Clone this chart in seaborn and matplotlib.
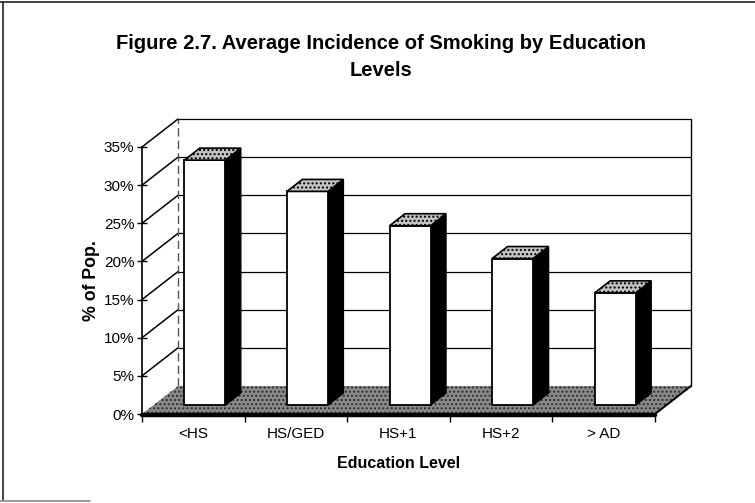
import numpy as np
import pandas as pd
import matplotlib
matplotlib.use("Agg")
import matplotlib.pyplot as plt
import seaborn as sns
from matplotlib.patches import Polygon
from matplotlib.lines import Line2D
from matplotlib import transforms

# data
levels = ["<HS", "HS/GED", "HS+1", "HS+2", "> AD"]
smoking_pct = [32.1, 28.0, 23.5, 19.2, 14.7]
y_ticks = [0, 5, 10, 15, 20, 25, 30, 35]
y_tick_labels = ["0%", "5%", "10%", "15%", "20%", "25%", "30%", "35%"]

sns.set_theme(style="white")
plt.rcParams['font.family'] = ['Liberation Sans', 'DejaVu Sans']

W, H = 755, 503
fig = plt.figure(figsize=(W / 100, H / 100), dpi=100)
fig.patch.set_facecolor("white")

# front plane of the fake 3d box, in pixels from top-left
x0, x1 = 142, 655
yb, yt = 414, 147
ax = fig.add_axes([x0 / W, 1 - yb / H, (x1 - x0) / W, (yb - yt) / H])
ax.patch.set_visible(False)

df = pd.DataFrame({"level": levels, "pct": smoking_pct})
sns.barplot(data=df, x="level", y="pct", color="white", edgecolor="black",
            linewidth=1.3, width=0.40, saturation=1, ax=ax, zorder=6)
bars = list(ax.patches)
ax.set_xlim(-0.5, len(levels) - 0.5)
ax.set_ylim(0, 35)

depth = np.array([36.0, 28.0])   # full depth of the floor in pixels
bar_front = 0.32                 # where the bar front sits in the depth
bar_depth = 0.43
ident = transforms.IdentityTransform()


def px(x, y, d=0.0):
    return ax.transData.transform((x, y)) + d * depth


# back wall
lo, hi = -0.5, len(levels) - 0.5
wall = [px(lo, 0, 1), px(hi, 0, 1), px(hi, 35, 1), px(lo, 35, 1)]
ax.add_patch(Polygon(wall, closed=True, facecolor="white", edgecolor="none",
                     transform=ident, clip_on=False, zorder=1))
for t in y_ticks[1:]:
    a, b = px(lo, t, 1), px(hi, t, 1)
    ax.add_line(Line2D([a[0], b[0]], [a[1], b[1]], color="black", lw=0.9,
                       transform=ident, clip_on=False, zorder=2))
    # slanted lines on the left wall
    c = px(lo, t, 0)
    ax.add_line(Line2D([c[0], a[0]], [c[1], a[1]], color="black", lw=1.1,
                       transform=ident, clip_on=False, zorder=2))
a, b = px(hi, 0, 1), px(hi, 35, 1)
ax.add_line(Line2D([a[0], b[0]], [a[1], b[1]], color="black", lw=1.0,
                   transform=ident, clip_on=False, zorder=2))
a, b = px(lo, 0, 1), px(lo, 35, 1)
ax.add_line(Line2D([a[0], b[0]], [a[1], b[1]], color="#555555", lw=1.0,
                   ls=(0, (6, 3)), transform=ident, clip_on=False, zorder=2))

# floor
floor = [px(lo, 0, 0), px(hi, 0, 0), px(hi, 0, 1), px(lo, 0, 1)]
ax.add_patch(Polygon(floor, closed=True, facecolor="#8a8a8a", edgecolor="#2e2e2e",
                     hatch="....", lw=0, transform=ident, clip_on=False, zorder=3))
a, b = px(lo, 0, 0), px(hi, 0, 0)
ax.add_line(Line2D([a[0], b[0]], [a[1] - 1, b[1] - 1], color="black", lw=3.2,
                   transform=ident, clip_on=False, zorder=4))
c = px(hi, 0, 1)
ax.add_line(Line2D([b[0], c[0]], [b[1], c[1]], color="black", lw=1.4,
                   transform=ident, clip_on=False, zorder=4))

# bars: move the front faces back a little, then add side and top faces
shift = bar_front * depth
front_tr = transforms.offset_copy(ax.transData, fig=fig, x=shift[0], y=shift[1], units="dots")
for p in bars:
    bx, bw, bh = p.get_x(), p.get_width(), p.get_height()
    p.set_transform(front_tr)
    p.set_clip_on(False)
    d0, d1 = bar_front, bar_front + bar_depth
    side = [px(bx + bw, 0, d0), px(bx + bw, bh, d0), px(bx + bw, bh, d1), px(bx + bw, 0, d1)]
    ax.add_patch(Polygon(side, closed=True, facecolor="black", edgecolor="black", lw=1.0,
                         transform=ident, clip_on=False, zorder=5))
    top = [px(bx, bh, d0), px(bx + bw, bh, d0), px(bx + bw, bh, d1), px(bx, bh, d1)]
    ax.add_patch(Polygon(top, closed=True, facecolor="#c4c4c4", edgecolor="black", lw=1.2,
                         hatch="....", transform=ident, clip_on=False, zorder=7))

# axes, ticks and labels
for s in ["top", "right", "bottom"]:
    ax.spines[s].set_visible(False)
ax.spines["left"].set_visible(True)
ax.spines["left"].set_color("black")
ax.spines["left"].set_linewidth(1.2)
ax.set_yticks(y_ticks)
ax.set_yticklabels(y_tick_labels)
ax.tick_params(axis="y", left=True, direction="inout", length=7, width=1,
               color="black", pad=2, labelsize=11, labelcolor="black")
ax.set_xticks(range(len(levels)))
ax.set_xticklabels(levels)
ax.set_xticks(np.arange(len(levels) + 1) - 0.5, minor=True)
ax.tick_params(axis="x", which="major", bottom=False, length=0, pad=9,
               labelsize=11, labelcolor="black")
ax.tick_params(axis="x", which="minor", bottom=True, direction="out", length=6,
               width=1, color="black")
ax.set_xlabel("Education Level", fontsize=11.5, fontweight="bold", labelpad=11, color="black")
ax.set_ylabel("% of Pop.", fontsize=12.8, fontweight="bold", labelpad=3, color="black")
ax.grid(False)

fig.text(381 / W, 1 - 57 / H, "Figure 2.7. Average Incidence of Smoking by Education\nLevels",
         ha="center", va="center", fontsize=14.5, fontweight="bold", linespacing=1.5, color="black")

# outer frame of the chart area
fig.add_artist(Line2D([3 / W, 3 / W], [1 - 2 / H, 3 / H], color="#222222", lw=1.2))
fig.add_artist(Line2D([0, 1], [1 - 2 / H, 1 - 2 / H], color="#222222", lw=1.2))
fig.add_artist(Line2D([0, 90 / W], [2 / H, 2 / H], color="#888888", lw=1.2))

fig.savefig("out.png", dpi=100)
